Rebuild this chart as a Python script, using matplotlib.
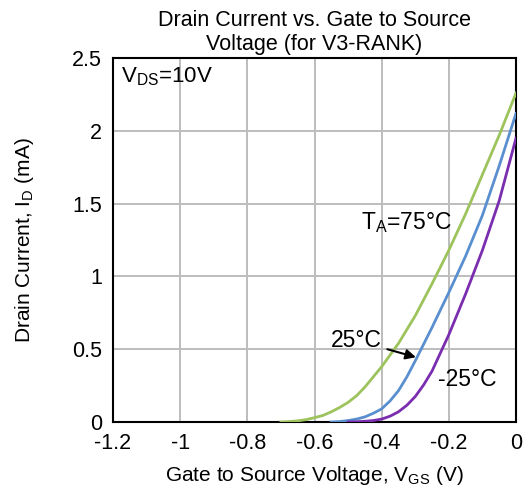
import matplotlib
matplotlib.use("Agg")
import matplotlib.pyplot as plt

plt.rcParams['font.family'] = ['Liberation Sans', 'DejaVu Sans']
plt.rcParams['mathtext.fontset'] = 'custom'
plt.rcParams['mathtext.rm'] = 'Liberation Sans'
plt.rcParams['mathtext.it'] = 'Liberation Sans'

# Data
vgs_75 = [-0.70, -0.675, -0.65, -0.625, -0.60, -0.575, -0.55, -0.525, -0.50, -0.475, -0.45, -0.425,
          -0.40, -0.35, -0.30, -0.25, -0.20, -0.15, -0.10, -0.05, 0.0]
id_75 = [0.0, 0.003, 0.008, 0.016, 0.03, 0.045, 0.07, 0.10, 0.135, 0.18, 0.24, 0.31,
         0.38, 0.54, 0.73, 0.95, 1.18, 1.43, 1.70, 1.97, 2.26]

vgs_25 = [-0.55, -0.525, -0.50, -0.475, -0.45, -0.425, -0.40, -0.375, -0.35, -0.325,
          -0.30, -0.25, -0.20, -0.15, -0.10, -0.05, 0.0]
id_25 = [0.0, 0.003, 0.01, 0.02, 0.035, 0.06, 0.09, 0.145, 0.215, 0.31,
         0.42, 0.65, 0.89, 1.14, 1.42, 1.76, 2.12]

vgs_m25 = [-0.50, -0.475, -0.45, -0.425, -0.40, -0.375, -0.35, -0.325, -0.30, -0.275,
           -0.25, -0.20, -0.15, -0.10, -0.05, 0.0]
id_m25 = [0.0, 0.002, 0.005, 0.01, 0.02, 0.04, 0.07, 0.115, 0.175, 0.255,
          0.35, 0.60, 0.88, 1.18, 1.52, 1.95]

xticks = [-1.2, -1.0, -0.8, -0.6, -0.4, -0.2, 0.0]
xticklabels = ['-1.2', '-1', '-0.8', '-0.6', '-0.4', '-0.2', '0']
yticks = [0, 0.5, 1.0, 1.5, 2.0, 2.5]
yticklabels = ['0', '0.5', '1', '1.5', '2', '2.5']

fig = plt.figure(figsize=(5.24, 4.93), dpi=100)
ax = fig.add_axes([0.2157, 0.144, 0.769, 0.738])

ax.plot(vgs_75, id_75, color='#9DC35C', lw=2.0, zorder=3)
ax.plot(vgs_25, id_25, color='#5A8FCF', lw=2.0, zorder=3)
ax.plot(vgs_m25, id_m25, color='#7B2DB0', lw=2.0, zorder=3)

ax.set_xlim(-1.2, 0)
ax.set_ylim(0, 2.5)
ax.set_xticks(xticks)
ax.set_xticklabels(xticklabels)
ax.set_yticks(yticks)
ax.set_yticklabels(yticklabels)
ax.tick_params(axis='x', length=0, labelsize=15.5, pad=8)
ax.tick_params(axis='y', length=0, labelsize=15.5, pad=8)
ax.grid(True, color='#BDBDBD', lw=1.4)
ax.set_axisbelow(True)
for s in ax.spines.values():
    s.set_linewidth(1.5)
    s.set_color('black')

ax.set_title('Drain Current vs. Gate to Source\nVoltage (for V3-RANK)', fontsize=15.5, linespacing=1.2, pad=6)
ax.set_xlabel(r'Gate to Source Voltage, V$_\mathregular{GS}$ (V)', fontsize=15, labelpad=7)
ax.set_ylabel(r'Drain Current, I$_\mathregular{D}$ (mA)', fontsize=15, labelpad=26)

ax.text(-1.175, 2.37, r'V$_\mathregular{DS}$=10V', fontsize=16, va='center', ha='left')
ax.text(-0.325, 1.37, r'T$_\mathregular{A}$=75°C', fontsize=16.5, va='center', ha='center')
ax.text(-0.146, 0.29, '-25°C', fontsize=16.5, va='center', ha='center')
ax.annotate('25°C', xy=(-0.298, 0.445), xytext=(-0.475, 0.56), fontsize=16.5,
            va='center', ha='center',
            arrowprops=dict(arrowstyle='-|>', color='black', lw=1.5,
                            mutation_scale=15, shrinkA=2, shrinkB=0))

fig.savefig('out.png', dpi=100)
